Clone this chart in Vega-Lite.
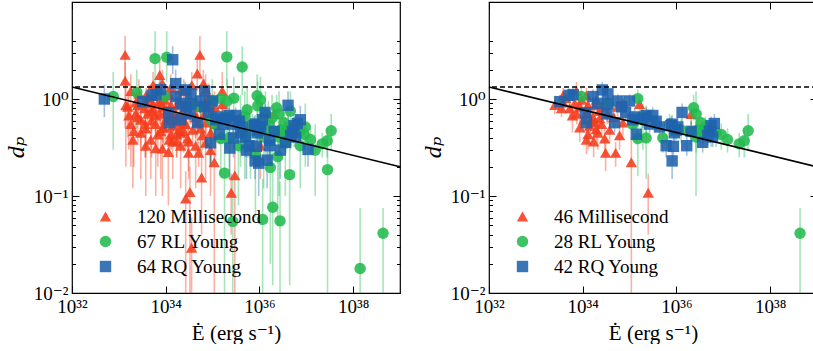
{
"$schema":"https://vega.github.io/schema/vega-lite/v6.json",
"padding":{"left":3,"top":0,"right":0,"bottom":0},
"config":{
 "view":{"stroke":"black","strokeWidth":1.2},
 "font":"'Liberation Serif', 'DejaVu Serif', serif",
 "axis":{"labelFont":"'Liberation Serif', 'DejaVu Serif', serif","titleFont":"'Liberation Serif', 'DejaVu Serif', serif","labelFontSize":19,"titleFontSize":21,"labelColor":"black","titleColor":"black","tickColor":"black","titleFontWeight":"normal","grid":false,"domain":false,"labelFlush":false,"labelOverlap":false,"tickWidth":1},
 "legend":{"labelFont":"'Liberation Serif', 'DejaVu Serif', serif","labelFontSize":19,"labelColor":"black","padding":0,"rowPadding":5,"labelOffset":22,"symbolSize":130,"symbolStrokeWidth":0,"symbolOpacity":0.88}
},
"datasets":{
"fit":[{"E":1e32,"d":1.33},{"E":1e39,"d":0.2}],
"pts":[
{"t":"MSP","E":7.35e33,"d":1.21,"lo":0.95,"hi":1.5,"s":1},
{"t":"MSP","E":3.52e33,"d":0.802,"lo":0.65,"hi":0.98,"s":1},
{"t":"MSP","E":5.29e33,"d":0.802,"lo":0.62,"hi":1.0,"s":1},
{"t":"MSP","E":3.81e33,"d":0.921,"lo":0.75,"hi":1.12,"s":1},
{"t":"MSP","E":6.04e33,"d":0.676,"lo":0.45,"hi":0.85,"s":1},
{"t":"MSP","E":8.63e33,"d":0.831,"lo":0.65,"hi":1.05,"s":1},
{"t":"MSP","E":1.3e34,"d":0.861,"lo":0.68,"hi":1.1,"s":1},
{"t":"MSP","E":1.2e34,"d":0.724,"lo":0.58,"hi":0.9,"s":1},
{"t":"MSP","E":1.8e34,"d":0.861,"lo":0.7,"hi":1.05,"s":1},
{"t":"MSP","E":1.95e34,"d":0.98,"lo":0.8,"hi":1.2,"s":1},
{"t":"MSP","E":1.66e34,"d":0.653,"lo":0.5,"hi":0.82,"s":1},
{"t":"MSP","E":1.8e34,"d":0.574,"lo":0.43,"hi":0.72,"s":1},
{"t":"MSP","E":2.3e34,"d":0.632,"lo":0.5,"hi":0.78,"s":1},
{"t":"MSP","E":1.41e34,"d":0.529,"lo":0.38,"hi":0.7,"s":1},
{"t":"MSP","E":1.95e34,"d":0.487,"lo":0.35,"hi":0.62,"s":1},
{"t":"MSP","E":3.75e34,"d":0.48,"lo":0.35,"hi":0.62,"s":1},
{"t":"MSP","E":1.3e34,"d":0.433,"lo":0.3,"hi":0.56,"s":1},
{"t":"MSP","E":1.2e34,"d":0.38,"lo":0.27,"hi":0.5,"s":1},
{"t":"MSP","E":2.94e34,"d":0.391,"lo":0.27,"hi":0.5,"s":1},
{"t":"MSP","E":6.12e34,"d":0.422,"lo":0.3,"hi":0.55,"s":1},
{"t":"MSP","E":7.2e34,"d":0.57,"lo":0.42,"hi":0.72,"s":1},
{"t":"MSP","E":3.08e34,"d":0.278,"lo":0.18,"hi":0.38,"s":1},
{"t":"MSP","E":5.04e34,"d":0.278,"lo":0.2,"hi":0.36,"s":1},
{"t":"MSP","E":1.09e35,"d":0.223,"lo":0.005,"hi":0.4,"s":1},
{"t":"MSP","E":1.63e35,"d":0.889,"lo":0.7,"hi":1.1,"s":1},
{"t":"MSP","E":7.45e34,"d":0.902,"lo":0.72,"hi":1.1,"s":1},
{"t":"MSP","E":1.2e34,"d":1.09,"lo":0.88,"hi":1.3,"s":1},
{"t":"MSP","E":2.3e34,"d":0.75,"lo":0.6,"hi":0.92,"s":1},
{"t":"MSP","E":3.81e33,"d":1.09,"lo":0.9,"hi":1.3,"s":1},
{"t":"MSP","E":2.06e36,"d":0.701,"lo":0.55,"hi":0.88,"s":1},
{"t":"MSP","E":2.5e35,"d":0.108,"lo":0.04,"hi":0.17,"s":1},
{"t":"MSP","E":2.54e33,"d":0.866,"lo":0.7,"hi":1.05,"s":1},
{"t":"MSP","E":4.35e33,"d":1.02,"lo":0.85,"hi":1.2,"s":1},
{"t":"MSP","E":9.5e33,"d":0.98,"lo":0.8,"hi":1.18,"s":1},
{"t":"MSP","E":7.45e33,"d":0.705,"lo":0.55,"hi":0.88,"s":1},
{"t":"MSP","E":1.48e34,"d":0.598,"lo":0.45,"hi":0.75,"s":1},
{"t":"MSP","E":2.54e34,"d":0.551,"lo":0.4,"hi":0.7,"s":1},
{"t":"MSP","E":1.05e34,"d":0.611,"lo":0.45,"hi":0.78,"s":1},
{"t":"MSP","E":2.08e34,"d":0.449,"lo":0.3,"hi":0.6,"s":1},
{"t":"MSP","E":3.4e34,"d":0.705,"lo":0.55,"hi":0.88,"s":1},
{"t":"MSP","E":4.57e34,"d":0.649,"lo":0.5,"hi":0.8,"s":1},
{"t":"MSP","E":8.63e33,"d":0.508,"lo":0.36,"hi":0.66,"s":1},
{"t":"MSP","E":1.71e34,"d":0.365,"lo":0.25,"hi":0.48,"s":1},
{"t":"MSP","E":2.54e34,"d":0.831,"lo":0.66,"hi":1.0,"s":1},
{"t":"MSP","E":6.76e33,"d":0.902,"lo":0.72,"hi":1.1,"s":1},
{"t":"MSP","E":5.56e34,"d":0.831,"lo":0.65,"hi":1.02,"s":1},
{"t":"MSP","E":1.36e33,"d":2.85,"lo":1.5,"hi":4.5,"s":0},
{"t":"MSP","E":5.37e34,"d":2.85,"lo":1.6,"hi":4.5,"s":0},
{"t":"MSP","E":7.45e33,"d":1.77,"lo":0.9,"hi":2.6,"s":0},
{"t":"MSP","E":1.36e33,"d":1.54,"lo":0.5,"hi":2.4,"s":0},
{"t":"MSP","E":4.72e34,"d":1.83,"lo":1.2,"hi":2.6,"s":0},
{"t":"MSP","E":6.34e34,"d":1.44,"lo":0.9,"hi":2.0,"s":0},
{"t":"MSP","E":3.6e34,"d":1.39,"lo":0.9,"hi":1.9,"s":0},
{"t":"MSP","E":1.61e35,"d":1.21,"lo":0.5,"hi":1.9,"s":0},
{"t":"MSP","E":1.8e33,"d":1.21,"lo":0.7,"hi":1.8,"s":0},
{"t":"MSP","E":1.41e33,"d":0.861,"lo":0.2,"hi":1.5,"s":0},
{"t":"MSP","E":5.37e33,"d":1.39,"lo":0.9,"hi":1.9,"s":0},
{"t":"MSP","E":8.51e33,"d":1.44,"lo":0.95,"hi":2.0,"s":0},
{"t":"MSP","E":2.94e33,"d":0.611,"lo":0.3,"hi":0.95,"s":0},
{"t":"MSP","E":4.96e33,"d":0.598,"lo":0.25,"hi":0.95,"s":0},
{"t":"MSP","E":7.83e33,"d":0.464,"lo":0.15,"hi":0.75,"s":0},
{"t":"MSP","E":8.51e33,"d":0.308,"lo":0.1,"hi":0.55,"s":0},
{"t":"MSP","E":1.14e34,"d":0.284,"lo":0.08,"hi":0.5,"s":0},
{"t":"MSP","E":7.1e34,"d":0.353,"lo":0.15,"hi":0.55,"s":0},
{"t":"MSP","E":5.83e34,"d":0.155,"lo":0.04,"hi":0.3,"s":0},
{"t":"MSP","E":2.98e35,"d":0.163,"lo":0.005,"hi":0.3,"s":0},
{"t":"MSP","E":3.29e34,"d":0.11,"lo":0.005,"hi":0.2,"s":0},
{"t":"MSP","E":2.67e34,"d":0.094,"lo":0.005,"hi":0.18,"s":0},
{"t":"MSP","E":3.57e34,"d":0.0293,"lo":0.005,"hi":0.06,"s":0},
{"t":"MSP","E":3.63e33,"d":0.551,"lo":0.25,"hi":0.85,"s":0},
{"t":"MSP","E":1.05e36,"d":0.33,"lo":0.15,"hi":0.55,"s":0},
{"t":"MSP","E":2.3e33,"d":0.705,"lo":0.4,"hi":1.0,"s":0},
{"t":"MSP","E":3.75e33,"d":0.497,"lo":0.25,"hi":0.8,"s":0},
{"t":"MSP","E":4.8e33,"d":0.38,"lo":0.15,"hi":0.65,"s":0},
{"t":"MSP","E":6.12e33,"d":0.551,"lo":0.3,"hi":0.8,"s":0},
{"t":"MSP","E":1.0e34,"d":0.611,"lo":0.35,"hi":0.9,"s":0},
{"t":"MSP","E":1.41e34,"d":0.365,"lo":0.15,"hi":0.6,"s":0},
{"t":"MSP","E":2.08e34,"d":0.33,"lo":0.12,"hi":0.55,"s":0},
{"t":"MSP","E":2.3e33,"d":0.921,"lo":0.6,"hi":1.3,"s":0},
{"t":"MSP","E":4.35e33,"d":1.02,"lo":0.7,"hi":1.4,"s":0},
{"t":"MSP","E":7.83e33,"d":0.921,"lo":0.6,"hi":1.3,"s":0},
{"t":"MSP","E":1.63e34,"d":0.705,"lo":0.45,"hi":1.0,"s":0},
{"t":"MSP","E":2.67e34,"d":0.551,"lo":0.3,"hi":0.8,"s":0},
{"t":"MSP","E":4.35e34,"d":0.649,"lo":0.4,"hi":0.9,"s":0},
{"t":"MSP","E":5.56e34,"d":0.497,"lo":0.28,"hi":0.75,"s":0},
{"t":"MSP","E":9.06e34,"d":0.449,"lo":0.2,"hi":0.7,"s":0},
{"t":"MSP","E":3.08e34,"d":1.02,"lo":0.7,"hi":1.4,"s":0},
{"t":"MSP","E":2.08e34,"d":1.25,"lo":0.85,"hi":1.7,"s":0},
{"t":"MSP","E":4.35e34,"d":0.921,"lo":0.6,"hi":1.3,"s":0},
{"t":"MSP","E":9.06e34,"d":0.705,"lo":0.4,"hi":1.0,"s":0},
{"t":"MSP","E":1.16e35,"d":0.551,"lo":0.25,"hi":0.85,"s":0},
{"t":"MSP","E":2.94e33,"d":0.449,"lo":0.15,"hi":0.75,"s":0},
{"t":"MSP","E":1.8e33,"d":0.551,"lo":0.2,"hi":0.9,"s":0},
{"t":"MSP","E":6.12e33,"d":0.31,"lo":0.1,"hi":0.55,"s":0},
{"t":"MSP","E":3.75e33,"d":0.33,"lo":0.1,"hi":0.6,"s":0},
{"t":"MSP","E":7.1e34,"d":1.25,"lo":0.8,"hi":1.8,"s":0},
{"t":"MSP","E":2.67e33,"d":1.13,"lo":0.75,"hi":1.6,"s":0},
{"t":"MSP","E":1.28e34,"d":1.31,"lo":0.9,"hi":1.8,"s":0},
{"t":"MSP","E":2.42e34,"d":1.2,"lo":0.8,"hi":1.6,"s":0},
{"t":"MSP","E":1.63e33,"d":0.676,"lo":0.3,"hi":1.1,"s":0},
{"t":"MSP","E":9.06e34,"d":0.297,"lo":0.1,"hi":0.5,"s":0},
{"t":"MSP","E":4.96e33,"d":0.75,"lo":0.45,"hi":1.05,"s":0},
{"t":"MSP","E":1.28e34,"d":0.611,"lo":0.35,"hi":0.9,"s":0},
{"t":"MSP","E":1.99e33,"d":0.38,"lo":0.12,"hi":0.7,"s":0},
{"t":"MSP","E":1.55e33,"d":0.831,"lo":0.4,"hi":1.2,"s":0},
{"t":"MSP","E":2.08e33,"d":0.467,"lo":0.2,"hi":0.8,"s":0},
{"t":"MSP","E":4.35e34,"d":0.33,"lo":0.12,"hi":0.55,"s":0},
{"t":"MSP","E":8.22e34,"d":1.02,"lo":0.65,"hi":1.45,"s":0},
{"t":"MSP","E":4.14e33,"d":0.705,"lo":0.45,"hi":1.0,"s":0},
{"t":"MSP","E":6.76e33,"d":0.43,"lo":0.2,"hi":0.7,"s":0},
{"t":"MSP","E":9.06e33,"d":0.508,"lo":0.3,"hi":0.75,"s":0},
{"t":"MSP","E":1.71e34,"d":0.43,"lo":0.25,"hi":0.65,"s":0},
{"t":"MSP","E":2.42e34,"d":0.467,"lo":0.28,"hi":0.7,"s":0},
{"t":"MSP","E":4.8e34,"d":0.574,"lo":0.35,"hi":0.85,"s":0},
{"t":"MSP","E":6.44e34,"d":0.676,"lo":0.4,"hi":0.95,"s":0},
{"t":"MSP","E":1.1e35,"d":0.831,"lo":0.5,"hi":1.2,"s":0},
{"t":"MSP","E":2.54e33,"d":0.649,"lo":0.35,"hi":1.0,"s":0},
{"t":"MSP","E":5.29e33,"d":0.902,"lo":0.6,"hi":1.25,"s":0},
{"t":"MSP","E":1.05e34,"d":0.765,"lo":0.5,"hi":1.05,"s":0},
{"t":"MSP","E":3.08e34,"d":0.365,"lo":0.15,"hi":0.6,"s":0},
{"t":"RL","E":9.38e33,"d":1.06,"lo":0.85,"hi":1.3,"s":1},
{"t":"RL","E":3.45e34,"d":0.889,"lo":0.72,"hi":1.1,"s":1},
{"t":"RL","E":1.5e35,"d":1.01,"lo":0.8,"hi":1.25,"s":1},
{"t":"RL","E":1.77e35,"d":0.653,"lo":0.35,"hi":0.95,"s":1},
{"t":"RL","E":1.92e35,"d":0.611,"lo":0.3,"hi":0.9,"s":1},
{"t":"RL","E":1.5e35,"d":0.391,"lo":0.16,"hi":0.55,"s":1},
{"t":"RL","E":2.26e35,"d":0.397,"lo":0.15,"hi":0.6,"s":1},
{"t":"RL","E":5.12e35,"d":0.397,"lo":0.28,"hi":0.5,"s":1},
{"t":"RL","E":2.33e36,"d":0.814,"lo":0.6,"hi":1.1,"s":1},
{"t":"RL","E":2.62e36,"d":0.701,"lo":0.1,"hi":1.2,"s":1},
{"t":"RL","E":3.36e36,"d":0.57,"lo":0.4,"hi":0.75,"s":1},
{"t":"RL","E":2.84e36,"d":0.48,"lo":0.35,"hi":0.62,"s":1},
{"t":"RL","E":3.63e36,"d":0.464,"lo":0.34,"hi":0.6,"s":1},
{"t":"RL","E":2.62e36,"d":0.405,"lo":0.28,"hi":0.55,"s":1},
{"t":"RL","E":7.0e36,"d":0.449,"lo":0.32,"hi":0.58,"s":1},
{"t":"RL","E":1.23e37,"d":0.383,"lo":0.28,"hi":0.5,"s":1},
{"t":"RL","E":2.19e37,"d":0.345,"lo":0.25,"hi":0.45,"s":1},
{"t":"RL","E":2.8e37,"d":0.371,"lo":0.25,"hi":0.5,"s":1},
{"t":"RL","E":3.4e37,"d":0.47,"lo":0.3,"hi":0.7,"s":1},
{"t":"RL","E":1.26e36,"d":0.48,"lo":0.35,"hi":0.62,"s":1},
{"t":"RL","E":4.35e38,"d":0.0413,"lo":0.005,"hi":0.075,"s":1},
{"t":"RL","E":2.06e36,"d":0.464,"lo":0.33,"hi":0.6,"s":1},
{"t":"RL","E":2.26e35,"d":0.653,"lo":0.4,"hi":0.85,"s":1},
{"t":"RL","E":5.47e36,"d":0.449,"lo":0.32,"hi":0.6,"s":1},
{"t":"RL","E":7.1e35,"d":0.551,"lo":0.4,"hi":0.7,"s":1},
{"t":"RL","E":4.14e36,"d":0.508,"lo":0.38,"hi":0.66,"s":1},
{"t":"RL","E":9.06e36,"d":0.43,"lo":0.3,"hi":0.56,"s":1},
{"t":"RL","E":1.16e35,"d":0.551,"lo":0.38,"hi":0.72,"s":1},
{"t":"RL","E":5.92e33,"d":2.61,"lo":1.2,"hi":5,"s":0},
{"t":"RL","E":1.05e34,"d":2.7,"lo":1.5,"hi":5,"s":0},
{"t":"RL","E":2.01e35,"d":2.72,"lo":1.3,"hi":5,"s":0},
{"t":"RL","E":4.29e35,"d":2.14,"lo":1.1,"hi":3.5,"s":0},
{"t":"RL","E":7.6e32,"d":1.06,"lo":0.3,"hi":1.9,"s":0},
{"t":"RL","E":2.42e33,"d":1.17,"lo":0.5,"hi":2.0,"s":0},
{"t":"RL","E":9.86e34,"d":0.954,"lo":0.3,"hi":1.6,"s":0},
{"t":"RL","E":2.06e35,"d":0.954,"lo":0.3,"hi":1.6,"s":0},
{"t":"RL","E":2.84e35,"d":1.02,"lo":0.35,"hi":1.7,"s":0},
{"t":"RL","E":8.93e35,"d":1.08,"lo":0.45,"hi":1.8,"s":0},
{"t":"RL","E":1.05e36,"d":0.98,"lo":0.4,"hi":1.7,"s":0},
{"t":"RL","E":9.2e35,"d":0.849,"lo":0.3,"hi":1.5,"s":0},
{"t":"RL","E":1.86e36,"d":0.64,"lo":0.2,"hi":1.1,"s":0},
{"t":"RL","E":9.53e36,"d":0.515,"lo":0.2,"hi":0.9,"s":0},
{"t":"RL","E":4.86e35,"d":0.667,"lo":0.15,"hi":1.2,"s":0},
{"t":"RL","E":1.23e36,"d":0.405,"lo":0.12,"hi":0.8,"s":0},
{"t":"RL","E":2.45e36,"d":0.254,"lo":0.05,"hi":0.5,"s":0},
{"t":"RL","E":1.71e36,"d":0.197,"lo":0.02,"hi":0.4,"s":0},
{"t":"RL","E":4.42e36,"d":0.166,"lo":0.012,"hi":0.35,"s":0},
{"t":"RL","E":2.84e37,"d":0.187,"lo":0.005,"hi":0.4,"s":0},
{"t":"RL","E":1.8e35,"d":0.172,"lo":0.005,"hi":0.4,"s":0},
{"t":"RL","E":1.92e36,"d":0.0766,"lo":0.012,"hi":0.2,"s":0},
{"t":"RL","E":1.17e36,"d":0.0574,"lo":0.009,"hi":0.15,"s":0},
{"t":"RL","E":2.7e35,"d":0.0547,"lo":0.005,"hi":0.15,"s":0},
{"t":"RL","E":2.75e36,"d":0.0554,"lo":0.005,"hi":0.14,"s":0},
{"t":"RL","E":1.41e38,"d":0.0179,"lo":0.005,"hi":0.075,"s":0},
{"t":"RL","E":5.47e35,"d":0.776,"lo":0.25,"hi":1.3,"s":0},
{"t":"RL","E":3.95e35,"d":0.611,"lo":0.2,"hi":1.1,"s":0},
{"t":"RL","E":6.44e35,"d":0.467,"lo":0.15,"hi":0.85,"s":0},
{"t":"RL","E":1.55e36,"d":0.551,"lo":0.2,"hi":0.95,"s":0},
{"t":"RL","E":3.57e36,"d":0.35,"lo":0.1,"hi":0.65,"s":0},
{"t":"RL","E":7.45e36,"d":0.33,"lo":0.12,"hi":0.6,"s":0},
{"t":"RL","E":1.55e37,"d":0.297,"lo":0.1,"hi":0.55,"s":0},
{"t":"RL","E":3.57e35,"d":0.33,"lo":0.08,"hi":0.65,"s":0},
{"t":"RL","E":8.22e35,"d":0.268,"lo":0.06,"hi":0.55,"s":0},
{"t":"RL","E":5.56e34,"d":0.831,"lo":0.3,"hi":1.4,"s":0},
{"t":"RL","E":9.06e34,"d":0.611,"lo":0.2,"hi":1.1,"s":0},
{"t":"RL","E":4.57e36,"d":0.75,"lo":0.3,"hi":1.2,"s":0},
{"t":"RL","E":1.34e36,"d":0.705,"lo":0.25,"hi":1.2,"s":0},
{"t":"RQ","E":3.24e33,"d":0.94,"lo":0.8,"hi":1.1,"s":1},
{"t":"RQ","E":5.1e33,"d":1.09,"lo":0.92,"hi":1.28,"s":1},
{"t":"RQ","E":6.22e33,"d":1.11,"lo":0.94,"hi":1.3,"s":1},
{"t":"RQ","E":1.66e34,"d":1.06,"lo":0.88,"hi":1.25,"s":1},
{"t":"RQ","E":2.62e34,"d":1.24,"lo":1.0,"hi":1.5,"s":1},
{"t":"RQ","E":3.45e34,"d":1.13,"lo":0.92,"hi":1.35,"s":1},
{"t":"RQ","E":3.45e34,"d":0.889,"lo":0.72,"hi":1.08,"s":1},
{"t":"RQ","E":5.64e34,"d":0.954,"lo":0.8,"hi":1.12,"s":1},
{"t":"RQ","E":1.0e35,"d":0.954,"lo":0.8,"hi":1.12,"s":1},
{"t":"RQ","E":1.16e34,"d":0.724,"lo":0.58,"hi":0.88,"s":1},
{"t":"RQ","E":1.2e34,"d":0.57,"lo":0.45,"hi":0.7,"s":1},
{"t":"RQ","E":3.29e34,"d":0.701,"lo":0.58,"hi":0.85,"s":1},
{"t":"RQ","E":4.8e34,"d":0.57,"lo":0.45,"hi":0.7,"s":1},
{"t":"RQ","E":8.22e34,"d":0.724,"lo":0.6,"hi":0.87,"s":1},
{"t":"RQ","E":1.17e35,"d":0.611,"lo":0.5,"hi":0.75,"s":1},
{"t":"RQ","E":2.26e35,"d":0.676,"lo":0.55,"hi":0.82,"s":1},
{"t":"RQ","E":3.13e35,"d":0.676,"lo":0.55,"hi":0.82,"s":1},
{"t":"RQ","E":3.7e35,"d":0.59,"lo":0.48,"hi":0.72,"s":1},
{"t":"RQ","E":2.67e35,"d":0.551,"lo":0.44,"hi":0.68,"s":1},
{"t":"RQ","E":4.35e35,"d":0.515,"lo":0.4,"hi":0.64,"s":1},
{"t":"RQ","E":1.39e35,"d":0.433,"lo":0.34,"hi":0.55,"s":1},
{"t":"RQ","E":7.71e35,"d":0.532,"lo":0.42,"hi":0.66,"s":1},
{"t":"RQ","E":9.86e35,"d":0.48,"lo":0.38,"hi":0.6,"s":1},
{"t":"RQ","E":6.04e35,"d":0.33,"lo":0.25,"hi":0.42,"s":1},
{"t":"RQ","E":8.63e35,"d":0.325,"lo":0.25,"hi":0.42,"s":1},
{"t":"RQ","E":1.66e36,"d":0.33,"lo":0.26,"hi":0.42,"s":1},
{"t":"RQ","E":8.1e35,"d":0.23,"lo":0.15,"hi":0.3,"s":1},
{"t":"RQ","E":1.32e36,"d":0.727,"lo":0.58,"hi":0.9,"s":1},
{"t":"RQ","E":2.06e36,"d":0.464,"lo":0.36,"hi":0.58,"s":1},
{"t":"RQ","E":3.63e36,"d":0.358,"lo":0.28,"hi":0.45,"s":1},
{"t":"RQ","E":5.47e36,"d":0.532,"lo":0.42,"hi":0.66,"s":1},
{"t":"RQ","E":6.44e36,"d":0.559,"lo":0.44,"hi":0.7,"s":1},
{"t":"RQ","E":5.04e36,"d":0.464,"lo":0.36,"hi":0.58,"s":1},
{"t":"RQ","E":4.64e36,"d":0.419,"lo":0.33,"hi":0.53,"s":1},
{"t":"RQ","E":5.92e36,"d":0.405,"lo":0.32,"hi":0.51,"s":1},
{"t":"RQ","E":1.92e35,"d":0.632,"lo":0.5,"hi":0.78,"s":1},
{"t":"RQ","E":1.28e35,"d":0.653,"lo":0.52,"hi":0.8,"s":1},
{"t":"RQ","E":8.1e35,"d":0.551,"lo":0.44,"hi":0.68,"s":1},
{"t":"RQ","E":1.07e36,"d":0.515,"lo":0.4,"hi":0.65,"s":1},
{"t":"RQ","E":9.06e35,"d":0.449,"lo":0.35,"hi":0.57,"s":1},
{"t":"RQ","E":6.76e34,"d":0.831,"lo":0.68,"hi":1.0,"s":1},
{"t":"RQ","E":2.08e34,"d":0.902,"lo":0.75,"hi":1.08,"s":1},
{"t":"RQ","E":1.41e34,"d":2.54,"lo":1.8,"hi":3.5,"s":0},
{"t":"RQ","E":4.9e32,"d":1.0,"lo":0.65,"hi":1.4,"s":0},
{"t":"RQ","E":1.63e34,"d":1.44,"lo":1.0,"hi":2.0,"s":0},
{"t":"RQ","E":6.76e34,"d":1.21,"lo":0.9,"hi":1.6,"s":0},
{"t":"RQ","E":9.06e34,"d":0.353,"lo":0.2,"hi":0.55,"s":0},
{"t":"RQ","E":2.33e35,"d":0.312,"lo":0.15,"hi":0.5,"s":0},
{"t":"RQ","E":4.08e36,"d":0.861,"lo":0.6,"hi":1.2,"s":0},
{"t":"RQ","E":1.66e36,"d":0.378,"lo":0.2,"hi":0.6,"s":0},
{"t":"RQ","E":5.29e35,"d":0.297,"lo":0.15,"hi":0.5,"s":0},
{"t":"RQ","E":1.09e37,"d":0.302,"lo":0.2,"hi":0.45,"s":0},
{"t":"RQ","E":9.66e35,"d":0.218,"lo":0.1,"hi":0.35,"s":0},
{"t":"RQ","E":1.46e36,"d":0.234,"lo":0.12,"hi":0.38,"s":0},
{"t":"RQ","E":5.04e35,"d":0.405,"lo":0.25,"hi":0.6,"s":0},
{"t":"RQ","E":2.67e34,"d":0.831,"lo":0.6,"hi":1.1,"s":0},
{"t":"RQ","E":7.83e33,"d":1.25,"lo":0.9,"hi":1.7,"s":0},
{"t":"RQ","E":2.08e34,"d":0.611,"lo":0.4,"hi":0.85,"s":0},
{"t":"RQ","E":1.63e35,"d":0.551,"lo":0.35,"hi":0.8,"s":0},
{"t":"RQ","E":3.95e35,"d":0.449,"lo":0.28,"hi":0.65,"s":0},
{"t":"RQ","E":7.45e36,"d":0.611,"lo":0.4,"hi":0.85,"s":0},
{"t":"RQ","E":2.8e36,"d":0.297,"lo":0.15,"hi":0.45,"s":0},
{"t":"RQ","E":2.8e35,"d":0.397,"lo":0.25,"hi":0.6,"s":0},
{"t":"RQ","E":1.16e36,"d":0.611,"lo":0.4,"hi":0.85,"s":0}
]},
"resolve":{"legend":{"color":"independent","shape":"independent"}},
"spacing":16,
"hconcat":[
{"width":328,"height":291,
 "layer":[
  {"data":{"name":"pts"},"transform":[{"filter":"datum.t == 'MSP'"}],
   "mark":{"type":"rule","strokeWidth":1.6,"opacity":0.4,"clip":true,"color":"#f53c1c"},
   "encoding":{
    "x":{"field":"E","type":"quantitative","scale":{"type":"log","domain":[1e32,1e39]},
      "axis":{"orient":"bottom","values":[1e32,1e34,1e36,1e38],"labelExpr":"datum.value == 1e32 ? '10³²' : datum.value == 1e34 ? '10³⁴' : datum.value == 1e36 ? '10³⁶' : '10³⁸'","title":"Ė (erg s⁻¹)","tickSize":-7,"labelPadding":11,"titlePadding":6}},
    "y":{"field":"lo","type":"quantitative","scale":{"type":"log","domain":[0.01,4]},
      "axis":{"orient":"left","values":[0.01,0.02,0.03,0.04,0.05,0.06,0.07,0.08,0.09,0.1,0.2,0.3,0.4,0.5,0.6,0.7,0.8,0.9,1,2,3,4],"labelExpr":"datum.value == 1 ? '10⁰' : datum.value == 0.1 ? '10⁻¹' : datum.value == 0.01 ? '10⁻²' : ''","tickSize":{"condition":{"test":"datum.value == 1 || datum.value == 0.1 || datum.value == 0.01","value":-7},"value":-3.5},"labelPadding":11,"title":"dₚ","titleFontStyle":"italic","titleFontSize":24,"titleX":-44,"titleY":145,"minExtent":40,"maxExtent":40}},
    "y2":{"field":"hi"}
   }},
  {"data":{"name":"pts"},"transform":[{"filter":"datum.t == 'RL'"}],
   "mark":{"type":"rule","strokeWidth":1.6,"opacity":0.4,"clip":true,"color":"#22bb4f"},
   "encoding":{"x":{"field":"E","type":"quantitative","axis":null},"y":{"field":"lo","type":"quantitative","axis":null},"y2":{"field":"hi"}}},
  {"data":{"name":"pts"},"transform":[{"filter":"datum.t == 'RQ'"}],
   "mark":{"type":"rule","strokeWidth":1.6,"opacity":0.4,"clip":true,"color":"#1f63ad"},
   "encoding":{"x":{"field":"E","type":"quantitative","axis":null},"y":{"field":"lo","type":"quantitative","axis":null},"y2":{"field":"hi"}}},
  {"data":{"name":"pts"},
   "mark":{"type":"point","filled":true,"size":130,"opacity":0.88,"strokeWidth":0},
   "encoding":{
    "x":{"field":"E","type":"quantitative","axis":null},
    "y":{"field":"d","type":"quantitative","axis":null},
    "color":{"field":"t","type":"nominal","scale":{"domain":["MSP","RL","RQ"],"range":["#f53c1c","#22bb4f","#1f63ad"]},"legend":{"orient":"none","legendX":24,"legendY":205,"title":null,"labelExpr":"datum.value == 'MSP' ? '120 Millisecond' : datum.value == 'RL' ? '67 RL Young' : '64 RQ Young'"}},
    "shape":{"field":"t","type":"nominal","scale":{"domain":["MSP","RL","RQ"],"range":["triangle-up","circle","square"]},"legend":{"orient":"none","legendX":24,"legendY":205,"title":null,"labelExpr":"datum.value == 'MSP' ? '120 Millisecond' : datum.value == 'RL' ? '67 RL Young' : '64 RQ Young'"}}
   }},
  {"data":{"values":[{}]},
   "mark":{"type":"rule","color":"black","strokeWidth":1.3,"strokeDash":[5,3]},
   "encoding":{"y":{"datum":1.33,"type":"quantitative","axis":{"orient":"right","values":[0.01,0.02,0.03,0.04,0.05,0.06,0.07,0.08,0.09,0.1,0.2,0.3,0.4,0.5,0.6,0.7,0.8,0.9,1,2,3,4],"labels":false,"title":null,"tickSize":{"condition":{"test":"datum.value == 1 || datum.value == 0.1 || datum.value == 0.01","value":-7},"value":-3.5},"minExtent":0,"maxExtent":0}}}},
  {"data":{"name":"fit"},
   "mark":{"type":"line","color":"black","strokeWidth":1.6},
   "encoding":{
    "x":{"field":"E","type":"quantitative","axis":{"orient":"top","values":[1e32,1e34,1e36,1e38],"labels":false,"title":null,"tickSize":-7,"minExtent":0,"maxExtent":0}},
    "y":{"field":"d","type":"quantitative","axis":null}}}
 ]},
{"width":328,"height":291,
 "layer":[
  {"data":{"name":"pts"},"transform":[{"filter":"datum.s == 1 && datum.t == 'MSP'"}],
   "mark":{"type":"rule","strokeWidth":1.6,"opacity":0.4,"clip":true,"color":"#f53c1c"},
   "encoding":{
    "x":{"field":"E","type":"quantitative","scale":{"type":"log","domain":[1e32,1e39]},
      "axis":{"orient":"bottom","values":[1e32,1e34,1e36,1e38],"labelExpr":"datum.value == 1e32 ? '10³²' : datum.value == 1e34 ? '10³⁴' : datum.value == 1e36 ? '10³⁶' : '10³⁸'","title":"Ė (erg s⁻¹)","tickSize":-7,"labelPadding":11,"titlePadding":6}},
    "y":{"field":"lo","type":"quantitative","scale":{"type":"log","domain":[0.01,4]},
      "axis":{"orient":"left","values":[0.01,0.02,0.03,0.04,0.05,0.06,0.07,0.08,0.09,0.1,0.2,0.3,0.4,0.5,0.6,0.7,0.8,0.9,1,2,3,4],"labelExpr":"datum.value == 1 ? '10⁰' : datum.value == 0.1 ? '10⁻¹' : datum.value == 0.01 ? '10⁻²' : ''","tickSize":{"condition":{"test":"datum.value == 1 || datum.value == 0.1 || datum.value == 0.01","value":-7},"value":-3.5},"labelPadding":11,"title":"dₚ","titleFontStyle":"italic","titleFontSize":24,"titleX":-44,"titleY":145,"minExtent":40,"maxExtent":40}},
    "y2":{"field":"hi"}
   }},
  {"data":{"name":"pts"},"transform":[{"filter":"datum.s == 1 && datum.t == 'RL'"}],
   "mark":{"type":"rule","strokeWidth":1.6,"opacity":0.4,"clip":true,"color":"#22bb4f"},
   "encoding":{"x":{"field":"E","type":"quantitative","axis":null},"y":{"field":"lo","type":"quantitative","axis":null},"y2":{"field":"hi"}}},
  {"data":{"name":"pts"},"transform":[{"filter":"datum.s == 1 && datum.t == 'RQ'"}],
   "mark":{"type":"rule","strokeWidth":1.6,"opacity":0.4,"clip":true,"color":"#1f63ad"},
   "encoding":{"x":{"field":"E","type":"quantitative","axis":null},"y":{"field":"lo","type":"quantitative","axis":null},"y2":{"field":"hi"}}},
  {"data":{"name":"pts"},"transform":[{"filter":"datum.s == 1"}],
   "mark":{"type":"point","filled":true,"size":130,"opacity":0.88,"strokeWidth":0},
   "encoding":{
    "x":{"field":"E","type":"quantitative","axis":null},
    "y":{"field":"d","type":"quantitative","axis":null},
    "color":{"field":"t","type":"nominal","scale":{"domain":["MSP","RL","RQ"],"range":["#f53c1c","#22bb4f","#1f63ad"]},"legend":{"orient":"none","legendX":24,"legendY":205,"title":null,"labelExpr":"datum.value == 'MSP' ? '46 Millisecond' : datum.value == 'RL' ? '28 RL Young' : '42 RQ Young'"}},
    "shape":{"field":"t","type":"nominal","scale":{"domain":["MSP","RL","RQ"],"range":["triangle-up","circle","square"]},"legend":{"orient":"none","legendX":24,"legendY":205,"title":null,"labelExpr":"datum.value == 'MSP' ? '46 Millisecond' : datum.value == 'RL' ? '28 RL Young' : '42 RQ Young'"}}
   }},
  {"data":{"values":[{}]},
   "mark":{"type":"rule","color":"black","strokeWidth":1.3,"strokeDash":[5,3]},
   "encoding":{"y":{"datum":1.33,"type":"quantitative","axis":{"orient":"right","values":[0.01,0.02,0.03,0.04,0.05,0.06,0.07,0.08,0.09,0.1,0.2,0.3,0.4,0.5,0.6,0.7,0.8,0.9,1,2,3,4],"labels":false,"title":null,"tickSize":{"condition":{"test":"datum.value == 1 || datum.value == 0.1 || datum.value == 0.01","value":-7},"value":-3.5},"minExtent":0,"maxExtent":0}}}},
  {"data":{"name":"fit"},
   "mark":{"type":"line","color":"black","strokeWidth":1.6},
   "encoding":{
    "x":{"field":"E","type":"quantitative","axis":{"orient":"top","values":[1e32,1e34,1e36,1e38],"labels":false,"title":null,"tickSize":-7,"minExtent":0,"maxExtent":0}},
    "y":{"field":"d","type":"quantitative","axis":null}}}
 ]}
]
}
